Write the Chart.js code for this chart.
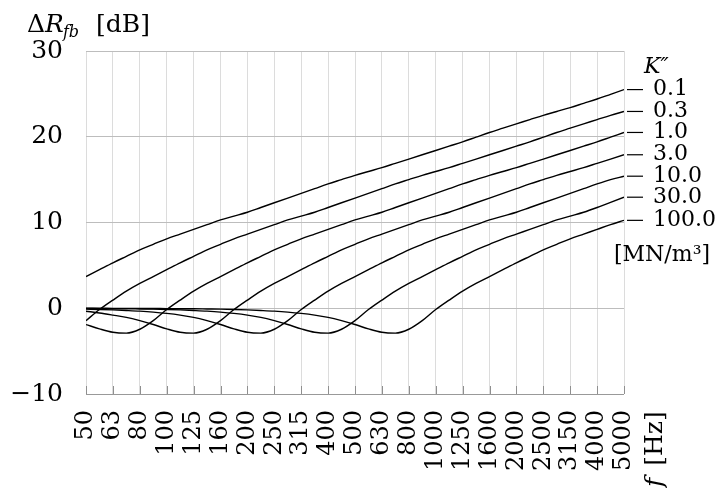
<!DOCTYPE html>
<html>
<head>
<meta charset="utf-8">
<script src="https://cdn.jsdelivr.net/npm/chart.js@4"></script>
<style>
  html, body { margin: 0; padding: 0; background: #fff; }
  canvas { display: block; }
</style>
</head>
<body>
<canvas id="chart" width="719" height="488"></canvas>
<script>
// third-octave bands (tick labels), one per x index 0..20
const bands = ["50", "63", "80", "100", "125", "160", "200", "250", "315", "400", "500",
  "630", "800", "1000", "1250", "1600", "2000", "2500", "3150", "4000", "5000"];

// stiffness K'' [MN/m³], one curve each
const stiffness = ["0.1", "0.3", "1.0", "3.0", "10.0", "30.0", "100.0"];

// ΔR_fb [dB] read at every half band, from 50 Hz to 5000 Hz (41 values)
const k01 = [3.7, 4.5, 5.3, 6.05, 6.8, 7.45, 8.1, 8.65, 9.2, 9.75, 10.3, 10.75, 11.2, 11.75,
  12.3, 12.85, 13.4, 13.95, 14.5, 15.0, 15.5, 15.95, 16.4, 16.9, 17.4, 17.9, 18.4, 18.9,
  19.4, 19.95, 20.5, 21.0, 21.5, 22.0, 22.5, 22.95, 23.4, 23.9, 24.4, 24.95, 25.5];
const k03 = [-1.45, -0.15, 0.95, 2.0, 2.9, 3.7, 4.5, 5.3, 6.05, 6.8, 7.45, 8.1, 8.65, 9.2,
  9.75, 10.3, 10.75, 11.2, 11.75, 12.3, 12.85, 13.4, 13.95, 14.5, 15.0, 15.5, 15.95, 16.4,
  16.9, 17.4, 17.9, 18.4, 18.9, 19.4, 19.95, 20.5, 21.0, 21.5, 22.0, 22.5, 22.95];
const k1 = [-1.9, -2.4, -2.8, -2.9, -2.45, -1.45, -0.15, 0.95, 2.0, 2.9, 3.7, 4.5, 5.3, 6.05,
  6.8, 7.45, 8.1, 8.65, 9.2, 9.75, 10.3, 10.75, 11.2, 11.75, 12.3, 12.85, 13.4, 13.95, 14.5,
  15.0, 15.5, 15.95, 16.4, 16.9, 17.4, 17.9, 18.4, 18.9, 19.4, 19.95, 20.5];
const k3 = [-0.35, -0.55, -0.8, -1.07, -1.45, -1.9, -2.4, -2.8, -2.9, -2.45, -1.45, -0.15, 0.95,
  2.0, 2.9, 3.7, 4.5, 5.3, 6.05, 6.8, 7.45, 8.1, 8.65, 9.2, 9.75, 10.3, 10.75, 11.2, 11.75,
  12.3, 12.85, 13.4, 13.95, 14.5, 15.0, 15.5, 15.95, 16.4, 16.9, 17.4, 17.9];
const k10 = [-0.1, -0.14, -0.19, -0.26, -0.34, -0.45, -0.6, -0.8, -1.07, -1.45, -1.9, -2.4,
  -2.8, -2.9, -2.45, -1.45, -0.15, 0.95, 2.0, 2.9, 3.7, 4.5, 5.3, 6.05, 6.8, 7.45, 8.1, 8.65,
  9.2, 9.75, 10.3, 10.75, 11.2, 11.75, 12.3, 12.85, 13.4, 13.95, 14.5, 15.0, 15.4];
const k30 = [-0.03, -0.04, -0.05, -0.06, -0.08, -0.1, -0.14, -0.19, -0.26, -0.34, -0.45, -0.6,
  -0.8, -1.07, -1.45, -1.9, -2.4, -2.8, -2.9, -2.45, -1.45, -0.15, 0.95, 2.0, 2.9, 3.7, 4.5,
  5.3, 6.05, 6.8, 7.45, 8.1, 8.65, 9.2, 9.75, 10.3, 10.75, 11.2, 11.75, 12.35, 12.95];
const k100 = [0, 0, -0.01, -0.01, -0.02, -0.03, -0.04, -0.05, -0.06, -0.08, -0.1, -0.14, -0.19,
  -0.26, -0.34, -0.45, -0.6, -0.8, -1.07, -1.45, -1.9, -2.4, -2.8, -2.9, -2.45, -1.45, -0.15,
  0.95, 2.0, 2.9, 3.7, 4.5, 5.3, 6.05, 6.8, 7.45, 8.1, 8.65, 9.2, 9.75, 10.25];

const series = [k01, k03, k1, k3, k10, k30, k100];

const SERIF = "'DejaVu Serif', serif";

// half-band samples sit between the band ticks
function toPoints(values) {
  return values.map((v, k) => ({ x: k / 2, y: v }));
}

const decorations = {
  id: "decorations",
  beforeDatasetsDraw(chart) {
    // short darker ticks sitting on the bottom axis
    const { ctx, chartArea, scales } = chart;
    ctx.save();
    ctx.strokeStyle = "#8f8f8f";
    ctx.lineWidth = 1;
    scales.x.ticks.forEach((t) => {
      const x = Math.round(scales.x.getPixelForValue(t.value)) + 0.5;
      ctx.beginPath();
      ctx.moveTo(x, chartArea.bottom - 8);
      ctx.lineTo(x, chartArea.bottom);
      ctx.stroke();
    });
    ctx.restore();
  },
  afterDraw(chart) {
    const { ctx, chartArea } = chart;
    ctx.save();
    ctx.fillStyle = "#000";
    ctx.strokeStyle = "#000";
    ctx.textBaseline = "alphabetic";

    // y-axis title: ΔR_fb [dB]
    let x = 27;
    ctx.font = "25px " + SERIF;
    ctx.fillText("Δ", x, 32);
    x += ctx.measureText("Δ").width;
    ctx.font = "italic 25px " + SERIF;
    ctx.fillText("R", x, 32);
    x += ctx.measureText("R").width - 1;
    ctx.font = "italic 16px " + SERIF;
    ctx.fillText("fb", x, 37);
    x = 96;
    ctx.font = "25px " + SERIF;
    ctx.fillText("[dB]", x, 32);

    // legend heading K''
    ctx.font = "italic 22px " + SERIF;
    ctx.fillText("K″", 644, 73);

    // curve labels at the right end of each line
    ctx.font = "22px " + SERIF;
    ctx.textBaseline = "middle";
    ctx.lineWidth = 1.2;
    chart.data.datasets.forEach((ds, i) => {
      const pts = chart.getDatasetMeta(i).data;
      const y = pts[pts.length - 1].y;
      ctx.beginPath();
      ctx.moveTo(chartArea.right + 3, y);
      ctx.lineTo(chartArea.right + 19, y);
      ctx.stroke();
      ctx.fillText(stiffness[i], chartArea.right + 29, y);
    });
    ctx.fillText("[MN/m³]", 614, 255);

    // x-axis title, written upwards after the last band
    ctx.translate(655, 487);
    ctx.rotate(-Math.PI / 2);
    ctx.textBaseline = "middle";
    ctx.font = "italic 25px " + SERIF;
    ctx.fillText("f", 0, 0);
    const fw = ctx.measureText("f").width;
    ctx.font = "25px " + SERIF;
    ctx.fillText("[Hz]", fw + 12, 0);
    ctx.restore();
  },
};

new Chart(document.getElementById("chart"), {
  type: "line",
  data: {
    datasets: series.map((values, i) => ({
      label: stiffness[i],
      data: toPoints(values),
      borderColor: "#000",
      borderWidth: 1.4,
      pointRadius: 0,
      fill: false,
      cubicInterpolationMode: "monotone",
    })),
  },
  options: {
    responsive: false,
    animation: false,
    layout: { padding: { top: 51, right: 95, left: 0, bottom: 0 } },
    plugins: { legend: { display: false }, tooltip: { enabled: false } },
    scales: {
      x: {
        type: "linear",
        min: 0,
        max: bands.length - 1,
        afterFit: (s) => { s.height = 94; },
        grid: { color: "#dcdcdc", lineWidth: 1, drawTicks: false },
        border: { display: false },
        ticks: {
          stepSize: 1,
          autoSkip: false,
          minRotation: 90,
          maxRotation: 90,
          padding: 16,
          color: "#000",
          font: { family: SERIF, size: 24 },
          callback: (v) => bands[v] ?? "",
        },
      },
      y: {
        min: -10,
        max: 30,
        afterFit: (s) => { s.width = 86; },
        grid: {
          color: (c) => (c.tick && c.tick.value === -10 ? "#999" : "#bdbdbd"),
          lineWidth: 1,
          drawTicks: false,
        },
        border: { display: false },
        ticks: {
          stepSize: 10,
          padding: 23,
          color: "#000",
          font: { family: SERIF, size: 25 },
          callback: (v) => (v < 0 ? "−" + Math.abs(v) : String(v)),
        },
      },
    },
  },
  plugins: [decorations],
});
</script>
</body>
</html>
